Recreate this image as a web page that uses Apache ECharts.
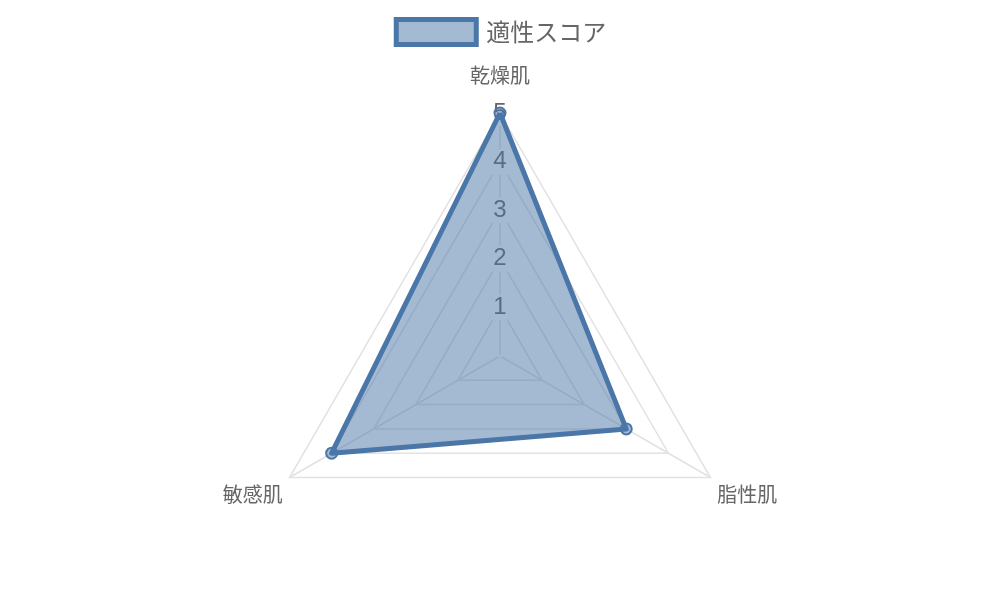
<!DOCTYPE html>
<html><head><meta charset="utf-8">
<script src="https://cdn.jsdelivr.net/npm/echarts@6/dist/echarts.min.js"></script>
<style>html,body{margin:0;padding:0;background:#fff}#c{width:1000px;height:600px}</style>
</head><body><div id="c"></div>
<script>
// Order follows ECharts' counter-clockwise layout: top, bottom-left, bottom-right
const categories = ['乾燥肌', '敏感肌', '脂性肌'];
const seriesName = '適性スコア';
const scores = [5, 4, 3];
const tickMax = 5;

const blue = '#4a76a8';
const fill = 'rgba(74,118,168,0.5)';
const nameStyles = [
  {padding: [0, 0, 20, 0]},
  {verticalAlign: 'top', padding: [3, 0, 0, 0]},
  {verticalAlign: 'top', padding: [3, 0, 0, 0]}
];
const chart = echarts.init(document.getElementById('c'));
chart.setOption({
  animation: false,
  textStyle: {fontFamily: '"Noto Sans CJK JP", "Liberation Sans", sans-serif'},
  legend: {
    top: 12, left: 'center',
    itemWidth: 80, itemHeight: 25,
    icon: 'rect',
    itemStyle: {color: fill, borderColor: blue, borderWidth: 5},
    textStyle: {fontSize: 24, color: '#666', padding: [0, 0, 0, 5], fontFamily: '"Noto Sans CJK JP", sans-serif'},
    data: [seriesName]
  },
  radar: {
    center: [500, 356],
    radius: 243,
    shape: 'polygon',
    startAngle: 90,
    splitNumber: 5,
    indicator: categories.map((n, i) => ({
      name: n, min: 0, max: tickMax,
      axisLabel: {show: i === 0},
      nameTextStyle: nameStyles[i]
    })),
    axisName: {color: '#666', fontSize: 20, fontFamily: '"Noto Sans CJK JP", sans-serif'},
    nameGap: 8,
    splitLine: {lineStyle: {color: '#e2e2e2', width: 1.5}},
    splitArea: {show: false},
    axisLine: {lineStyle: {color: '#e2e2e2', width: 1.5}},
    axisTick: {show: false},
    axisLabel: {
      color: '#666', fontSize: 24, fontFamily: '"Liberation Sans", sans-serif',
      margin: 0, align: 'center', verticalAlign: 'middle',
      backgroundColor: '#fff', padding: [1, 2],
      formatter: v => v === 0 ? '' : String(v)
    }
  },
  series: [{
    type: 'radar',
    name: seriesName,
    symbol: 'circle',
    symbolSize: 11,
    lineStyle: {color: blue, width: 5},
    areaStyle: {color: fill, opacity: 1},
    itemStyle: {color: fill, borderColor: blue, borderWidth: 2},
    data: [{value: scores, name: seriesName}]
  }]
});
</script></body></html>
